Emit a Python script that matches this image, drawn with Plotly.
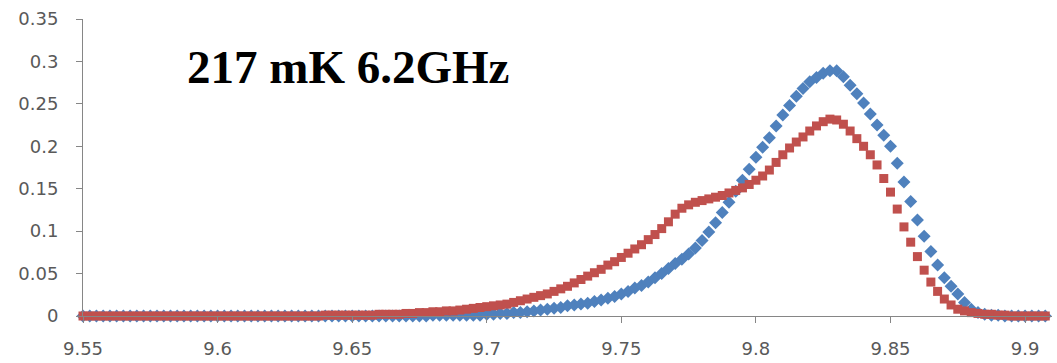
import plotly.graph_objects as go

freq = [
    9.5500, 9.5525, 9.5550, 9.5575, 9.5600, 9.5625, 9.5650, 9.5675,
    9.5700, 9.5725, 9.5750, 9.5775, 9.5800, 9.5825, 9.5850, 9.5875,
    9.5900, 9.5925, 9.5950, 9.5975, 9.6000, 9.6025, 9.6050, 9.6075,
    9.6100, 9.6125, 9.6150, 9.6175, 9.6200, 9.6225, 9.6250, 9.6275,
    9.6300, 9.6325, 9.6350, 9.6375, 9.6400, 9.6425, 9.6450, 9.6475,
    9.6500, 9.6525, 9.6550, 9.6575, 9.6600, 9.6625, 9.6650, 9.6675,
    9.6700, 9.6725, 9.6750, 9.6775, 9.6800, 9.6825, 9.6850, 9.6875,
    9.6900, 9.6925, 9.6950, 9.6975, 9.7000, 9.7025, 9.7050, 9.7075,
    9.7100, 9.7125, 9.7150, 9.7175, 9.7200, 9.7225, 9.7250, 9.7275,
    9.7300, 9.7325, 9.7350, 9.7375, 9.7400, 9.7425, 9.7450, 9.7475,
    9.7500, 9.7525, 9.7550, 9.7575, 9.7600, 9.7625, 9.7650, 9.7675,
    9.7700, 9.7725, 9.7750, 9.7775, 9.7800, 9.7825, 9.7850, 9.7875,
    9.7900, 9.7925, 9.7950, 9.7975, 9.8000, 9.8025, 9.8050, 9.8075,
    9.8100, 9.8125, 9.8150, 9.8175, 9.8200, 9.8225, 9.8250, 9.8275,
    9.8300, 9.8325, 9.8350, 9.8375, 9.8400, 9.8425, 9.8450, 9.8475,
    9.8500, 9.8525, 9.8550, 9.8575, 9.8600, 9.8625, 9.8650, 9.8675,
    9.8700, 9.8725, 9.8750, 9.8775, 9.8800, 9.8825, 9.8850, 9.8875,
    9.8900, 9.8925, 9.8950, 9.8975, 9.9000, 9.9025, 9.9050, 9.9075,
]

blue_series = [
    0, 0, 0, 0, 0, 0, 0, 0,
    0, 0, 0, 0, 0, 0, 0, 0,
    0, 0, 0, 0, 0, 0, 0, 0,
    0, 0, 0, 0, 0, 0, 0, 0,
    0, 0, 0, 0, 0, 0, 0, 0,
    0, 0, 0, 0, 0, 0, 0, 0,
    0, 0, 0, 0, 0.001, 0.001, 0.001, 0.001,
    0.001, 0.001, 0.001, 0.001, 0.002, 0.002, 0.003, 0.003,
    0.004, 0.004, 0.005, 0.006, 0.007, 0.008, 0.009, 0.010,
    0.012, 0.013, 0.014, 0.015, 0.017, 0.019, 0.021, 0.023,
    0.026, 0.029, 0.033, 0.036, 0.040, 0.045, 0.050, 0.056,
    0.062, 0.067, 0.073, 0.080, 0.089, 0.099, 0.110, 0.122,
    0.134, 0.147, 0.160, 0.173, 0.187, 0.199, 0.210, 0.224,
    0.237, 0.248, 0.259, 0.268, 0.276, 0.281, 0.286, 0.289,
    0.289, 0.282, 0.272, 0.262, 0.251, 0.238, 0.225, 0.213,
    0.200, 0.180, 0.158, 0.135, 0.113, 0.094, 0.076, 0.060,
    0.045, 0.035, 0.026, 0.016, 0.008, 0.004, 0.002, 0.001,
    0.001, 0, 0, 0, 0, 0, 0, 0,
]

red_series = [
    0, 0, 0, 0, 0, 0, 0, 0,
    0, 0, 0, 0, 0, 0, 0, 0,
    0, 0, 0, 0, 0, 0, 0, 0,
    0, 0, 0, 0, 0, 0, 0, 0,
    0, 0, 0, 0, 0.001, 0.001, 0.001, 0.001,
    0.001, 0.001, 0.001, 0.001, 0.002, 0.002, 0.002, 0.002,
    0.003, 0.003, 0.004, 0.004, 0.005, 0.005, 0.006, 0.006,
    0.007, 0.008, 0.009, 0.010, 0.011, 0.012, 0.013, 0.014,
    0.016, 0.018, 0.020, 0.022, 0.024, 0.026, 0.029, 0.032,
    0.035, 0.039, 0.043, 0.047, 0.051, 0.055, 0.060, 0.064,
    0.069, 0.074, 0.079, 0.084, 0.090, 0.096, 0.103, 0.111,
    0.120, 0.127, 0.131, 0.134, 0.136, 0.138, 0.140, 0.142,
    0.145, 0.148, 0.151, 0.155, 0.160, 0.165, 0.172, 0.181,
    0.190, 0.198, 0.205, 0.211, 0.218, 0.224, 0.229, 0.232,
    0.231, 0.226, 0.218, 0.209, 0.200, 0.190, 0.178, 0.162,
    0.146, 0.126, 0.105, 0.087, 0.070, 0.054, 0.040, 0.029,
    0.020, 0.013, 0.008, 0.006, 0.004, 0.003, 0.002, 0.002,
    0.001, 0.001, 0, 0, 0, 0, 0, 0,
]

x_ticks = [9.55, 9.6, 9.65, 9.7, 9.75, 9.8, 9.85, 9.9]
y_ticks = [0, 0.05, 0.1, 0.15, 0.2, 0.25, 0.3, 0.35]
title_text = "217 mK 6.2GHz"

BLUE = "#4F81BD"
RED = "#C0504D"
AXIS = "#868686"
TICKFONT = dict(family="DejaVu Sans", size=18, color="#595959")

fig = go.Figure()
fig.add_trace(go.Scatter(
    x=freq, y=blue_series, mode="markers",
    marker=dict(symbol="diamond", size=10, color=BLUE, line=dict(width=0)),
    showlegend=False, cliponaxis=False,
))
fig.add_trace(go.Scatter(
    x=freq, y=red_series, mode="markers",
    marker=dict(symbol="square", size=9, color=RED, line=dict(width=0)),
    showlegend=False, cliponaxis=False,
))

fig.update_layout(
    width=1057, height=363,
    margin=dict(l=83, r=5, t=19, b=47, autoexpand=False),
    paper_bgcolor="white", plot_bgcolor="white",
    annotations=[dict(
        text="<b>" + title_text + "</b>", xref="paper", yref="paper",
        x=0.105, y=0.837, xanchor="left", yanchor="middle", showarrow=False,
        font=dict(family="Liberation Serif", size=47, color="black"),
    )],
)
fig.update_xaxes(
    range=[9.55, 9.91], tickvals=x_ticks, ticktext=[f"{v:g}" for v in x_ticks],
    showgrid=False, zeroline=False, showline=True, linecolor=AXIS, linewidth=1,
    ticks="outside", ticklen=6, tickcolor=AXIS, tickfont=TICKFONT,
    ticklabelstandoff=10, automargin=False,
)
fig.update_yaxes(
    range=[0, 0.35], tickvals=y_ticks, ticktext=[f"{v:g}" for v in y_ticks],
    showgrid=False, zeroline=False, showline=True, linecolor=AXIS, linewidth=1,
    ticks="outside", ticklen=6, tickcolor=AXIS, tickfont=TICKFONT,
    ticklabelstandoff=14, automargin=False,
)

fig.write_html("out.html")
